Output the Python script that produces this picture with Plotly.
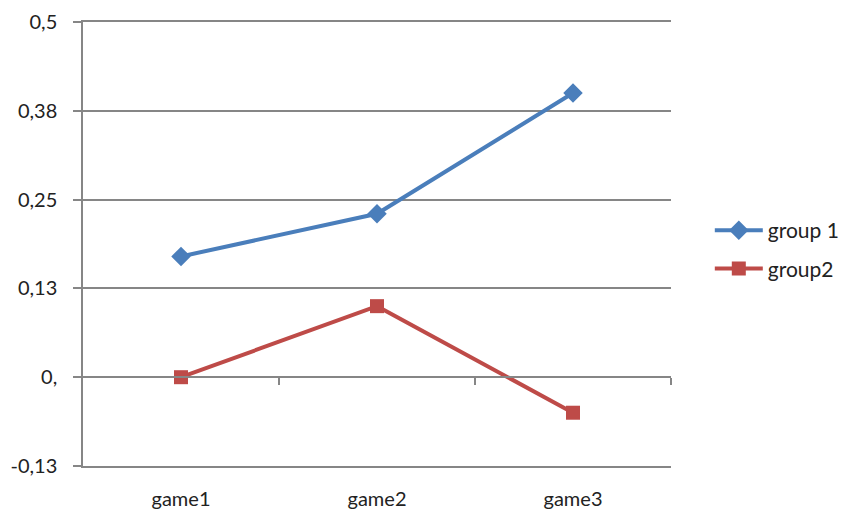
import plotly.graph_objects as go

# Chart data
categories = ["game1", "game2", "game3"]
group1 = [0.17, 0.23, 0.40]
group2 = [0.0, 0.10, -0.05]

y_tickvals = [-0.125, 0, 0.125, 0.25, 0.375, 0.5]
y_ticktext = ["-0,13", "0,", "0,13", "0,25", "0,38", "0,5"]
boundary_ticks = [0.5, 1.5, 2.5]

BLUE = "#4A7EBB"
RED = "#BE4B48"
GRID = "#868686"
TEXT = "#222222"
FONT = "Lato, Open Sans, sans-serif"

fig = go.Figure()
fig.add_trace(go.Scatter(
    x=categories, y=group1, name="group 1", mode="lines+markers",
    line=dict(color=BLUE, width=4),
    marker=dict(symbol="diamond", size=15, color=BLUE),
    legendgroup="a",
))
fig.add_trace(go.Scatter(
    x=categories, y=group2, name="group2", mode="lines+markers",
    line=dict(color=RED, width=4),
    marker=dict(symbol="square", size=14, color=RED),
    legendgroup="b",
))
# invisible trace that carries the horizontal axis drawn through zero
fig.add_trace(go.Scatter(
    x=[0], y=[0], xaxis="x2", mode="markers",
    marker=dict(opacity=0), showlegend=False, hoverinfo="skip",
))

fig.update_layout(
    width=848, height=511,
    margin=dict(l=83, r=177, t=22, b=45, autoexpand=False),
    paper_bgcolor="white", plot_bgcolor="white",
    font=dict(family=FONT, size=20, color=TEXT),
    showlegend=True,
    legend=dict(
        x=1.066, y=0.4876, xanchor="left", yanchor="middle",
        font=dict(size=21, color=TEXT),
        tracegroupgap=8,
        itemwidth=48,
    ),
    xaxis=dict(
        type="category", range=[-0.5, 2.5], automargin=False,
        showgrid=False, zeroline=False,
        showline=True, mirror=True, linecolor=GRID, linewidth=1.5,
        ticks="outside", ticklen=14, tickcolor="rgba(0,0,0,0)",
        tickfont=dict(size=20, color=TEXT),
    ),
    xaxis2=dict(
        overlaying="x", anchor="free", position=0.2,
        range=[-0.5, 2.5], showgrid=False, zeroline=False,
        showline=True, linecolor=GRID, linewidth=1.5,
        tickmode="array", tickvals=boundary_ticks,
        ticks="outside", ticklen=7, tickcolor=GRID, tickwidth=1.5,
        showticklabels=False,
    ),
    yaxis=dict(
        range=[-0.125, 0.5], automargin=False,
        tickmode="array", tickvals=y_tickvals, ticktext=y_ticktext,
        showgrid=True, gridcolor=GRID, gridwidth=1.5,
        zeroline=False,
        showline=True, linecolor=GRID, linewidth=1.5,
        ticks="outside", ticklen=8, tickcolor=GRID, tickwidth=1.5,
        ticklabelstandoff=12,
        tickfont=dict(size=20, color=TEXT),
    ),
)

fig.write_html("out.html")
